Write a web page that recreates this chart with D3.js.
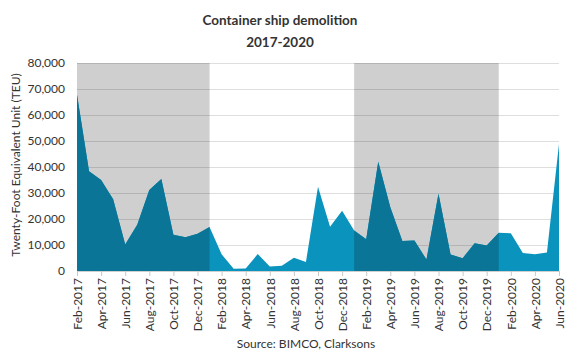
<!DOCTYPE html>
<html>
<head>
<meta charset="utf-8">
<script src="https://cdn.jsdelivr.net/npm/d3@7"></script>
<style>
  body { margin: 0; background: #fff; }
  text { font-family: Lato, "Open Sans", sans-serif; fill: #333; }
</style>
</head>
<body>
<div id="chart"></div>
<script>
// monthly demolition, TEU, Feb-2017 .. Jun-2020
const months = [
  "Feb-2017","Mar-2017","Apr-2017","May-2017","Jun-2017","Jul-2017","Aug-2017","Sep-2017","Oct-2017","Nov-2017","Dec-2017",
  "Jan-2018","Feb-2018","Mar-2018","Apr-2018","May-2018","Jun-2018","Jul-2018","Aug-2018","Sep-2018","Oct-2018","Nov-2018","Dec-2018",
  "Jan-2019","Feb-2019","Mar-2019","Apr-2019","May-2019","Jun-2019","Jul-2019","Aug-2019","Sep-2019","Oct-2019","Nov-2019","Dec-2019",
  "Jan-2020","Feb-2020","Mar-2020","Apr-2020","May-2020","Jun-2020"
];
const teu = [
  67800, 38400, 35000, 27600, 10200, 17800, 31200, 35400, 13900, 13000, 14300,
  16900, 6400, 900, 1000, 6500, 1700, 2000, 5100, 3500, 32400, 17000, 23200,
  15600, 12200, 42000, 24500, 11500, 11700, 4400, 29700, 6300, 4900, 10700, 9800,
  14700, 14500, 6900, 6400, 7100, 48800
];
// shaded periods (first/last month of each), drawn dark
const shaded = [["Feb-2017", "Jan-2018"], ["Jan-2019", "Jan-2020"]];
const yTicks = [0, 10000, 20000, 30000, 40000, 50000, 60000, 70000, 80000];

const width = 583, height = 362;
const margin = { top: 63, right: 24, bottom: 91, left: 77 };
const innerW = width - margin.left - margin.right;
const innerH = height - margin.top - margin.bottom;

const svg = d3.select("#chart").append("svg")
  .attr("width", width)
  .attr("height", height);

const x = d3.scalePoint().domain(months).range([0, innerW]);
const y = d3.scaleLinear().domain([0, 80000]).range([innerH, 0]);

const data = months.map((m, i) => ({ m, v: teu[i] }));

const g = svg.append("g").attr("transform", `translate(${margin.left},${margin.top})`);

// grey bands
g.selectAll("rect.band")
  .data(shaded)
  .join("rect")
  .attr("class", "band")
  .attr("x", d => x(d[0]))
  .attr("width", d => x(d[1]) - x(d[0]))
  .attr("y", y(80000))
  .attr("height", y(0) - y(80000))
  .attr("fill", "#cfcfcf");

// gridlines
g.append("g")
  .selectAll("line")
  .data(yTicks)
  .join("line")
  .attr("x1", 0)
  .attr("x2", innerW)
  .attr("y1", d => y(d) + 0.5)
  .attr("y2", d => y(d) + 0.5)
  .attr("stroke", "#000")
  .attr("stroke-opacity", 0.13);

const area = d3.area()
  .x(d => x(d.m))
  .y0(y(0))
  .y1(d => y(d.v));

g.append("path")
  .datum(data)
  .attr("d", area)
  .attr("fill", "#0a93bd");

shaded.forEach(([a, b]) => {
  const i0 = months.indexOf(a), i1 = months.indexOf(b);
  g.append("path")
    .datum(data.slice(i0, i1 + 1))
    .attr("d", area)
    .attr("fill", "#0a7596");
});

// y axis
const yAxis = g.append("g")
  .call(d3.axisLeft(y).tickValues(yTicks).tickSize(0).tickPadding(12).tickFormat(d3.format(",")));
yAxis.select(".domain").remove();
yAxis.selectAll("text").style("font-size", "12px").attr("fill", "#333");

// x axis
const xAxis = g.append("g")
  .attr("transform", `translate(0,${innerH})`)
  .call(d3.axisBottom(x).tickValues(months.filter((d, i) => i % 2 === 0)).tickSizeOuter(0).tickSize(5));
xAxis.select(".domain").attr("stroke", "#d0d0d0");
xAxis.selectAll(".tick line").attr("stroke", "#c8c8c8");
xAxis.selectAll("text")
  .style("font-size", "12px")
  .attr("fill", "#333")
  .attr("text-anchor", "end")
  .attr("transform", "rotate(-90)")
  .attr("x", -7)
  .attr("y", 0)
  .attr("dy", "0.35em");

// titles
svg.append("text")
  .attr("x", 280).attr("y", 25)
  .attr("text-anchor", "middle")
  .style("font-size", "13.5px").style("font-weight", "bold")
  .attr("fill", "#222")
  .text("Container ship demolition");
svg.append("text")
  .attr("x", 280).attr("y", 47)
  .attr("text-anchor", "middle")
  .style("font-size", "13.5px").style("font-weight", "bold")
  .attr("fill", "#222")
  .text("2017-2020");

svg.append("text")
  .attr("transform", `translate(20,${margin.top + innerH / 2 - 2}) rotate(-90)`)
  .attr("text-anchor", "middle")
  .style("font-size", "12px")
  .text("Twenty-Foot Equivalent Unit (TEU)");

svg.append("text")
  .attr("x", 306).attr("y", 348)
  .attr("text-anchor", "middle")
  .style("font-size", "12px")
  .text("Source: BIMCO, Clarksons");
</script>
</body>
</html>
